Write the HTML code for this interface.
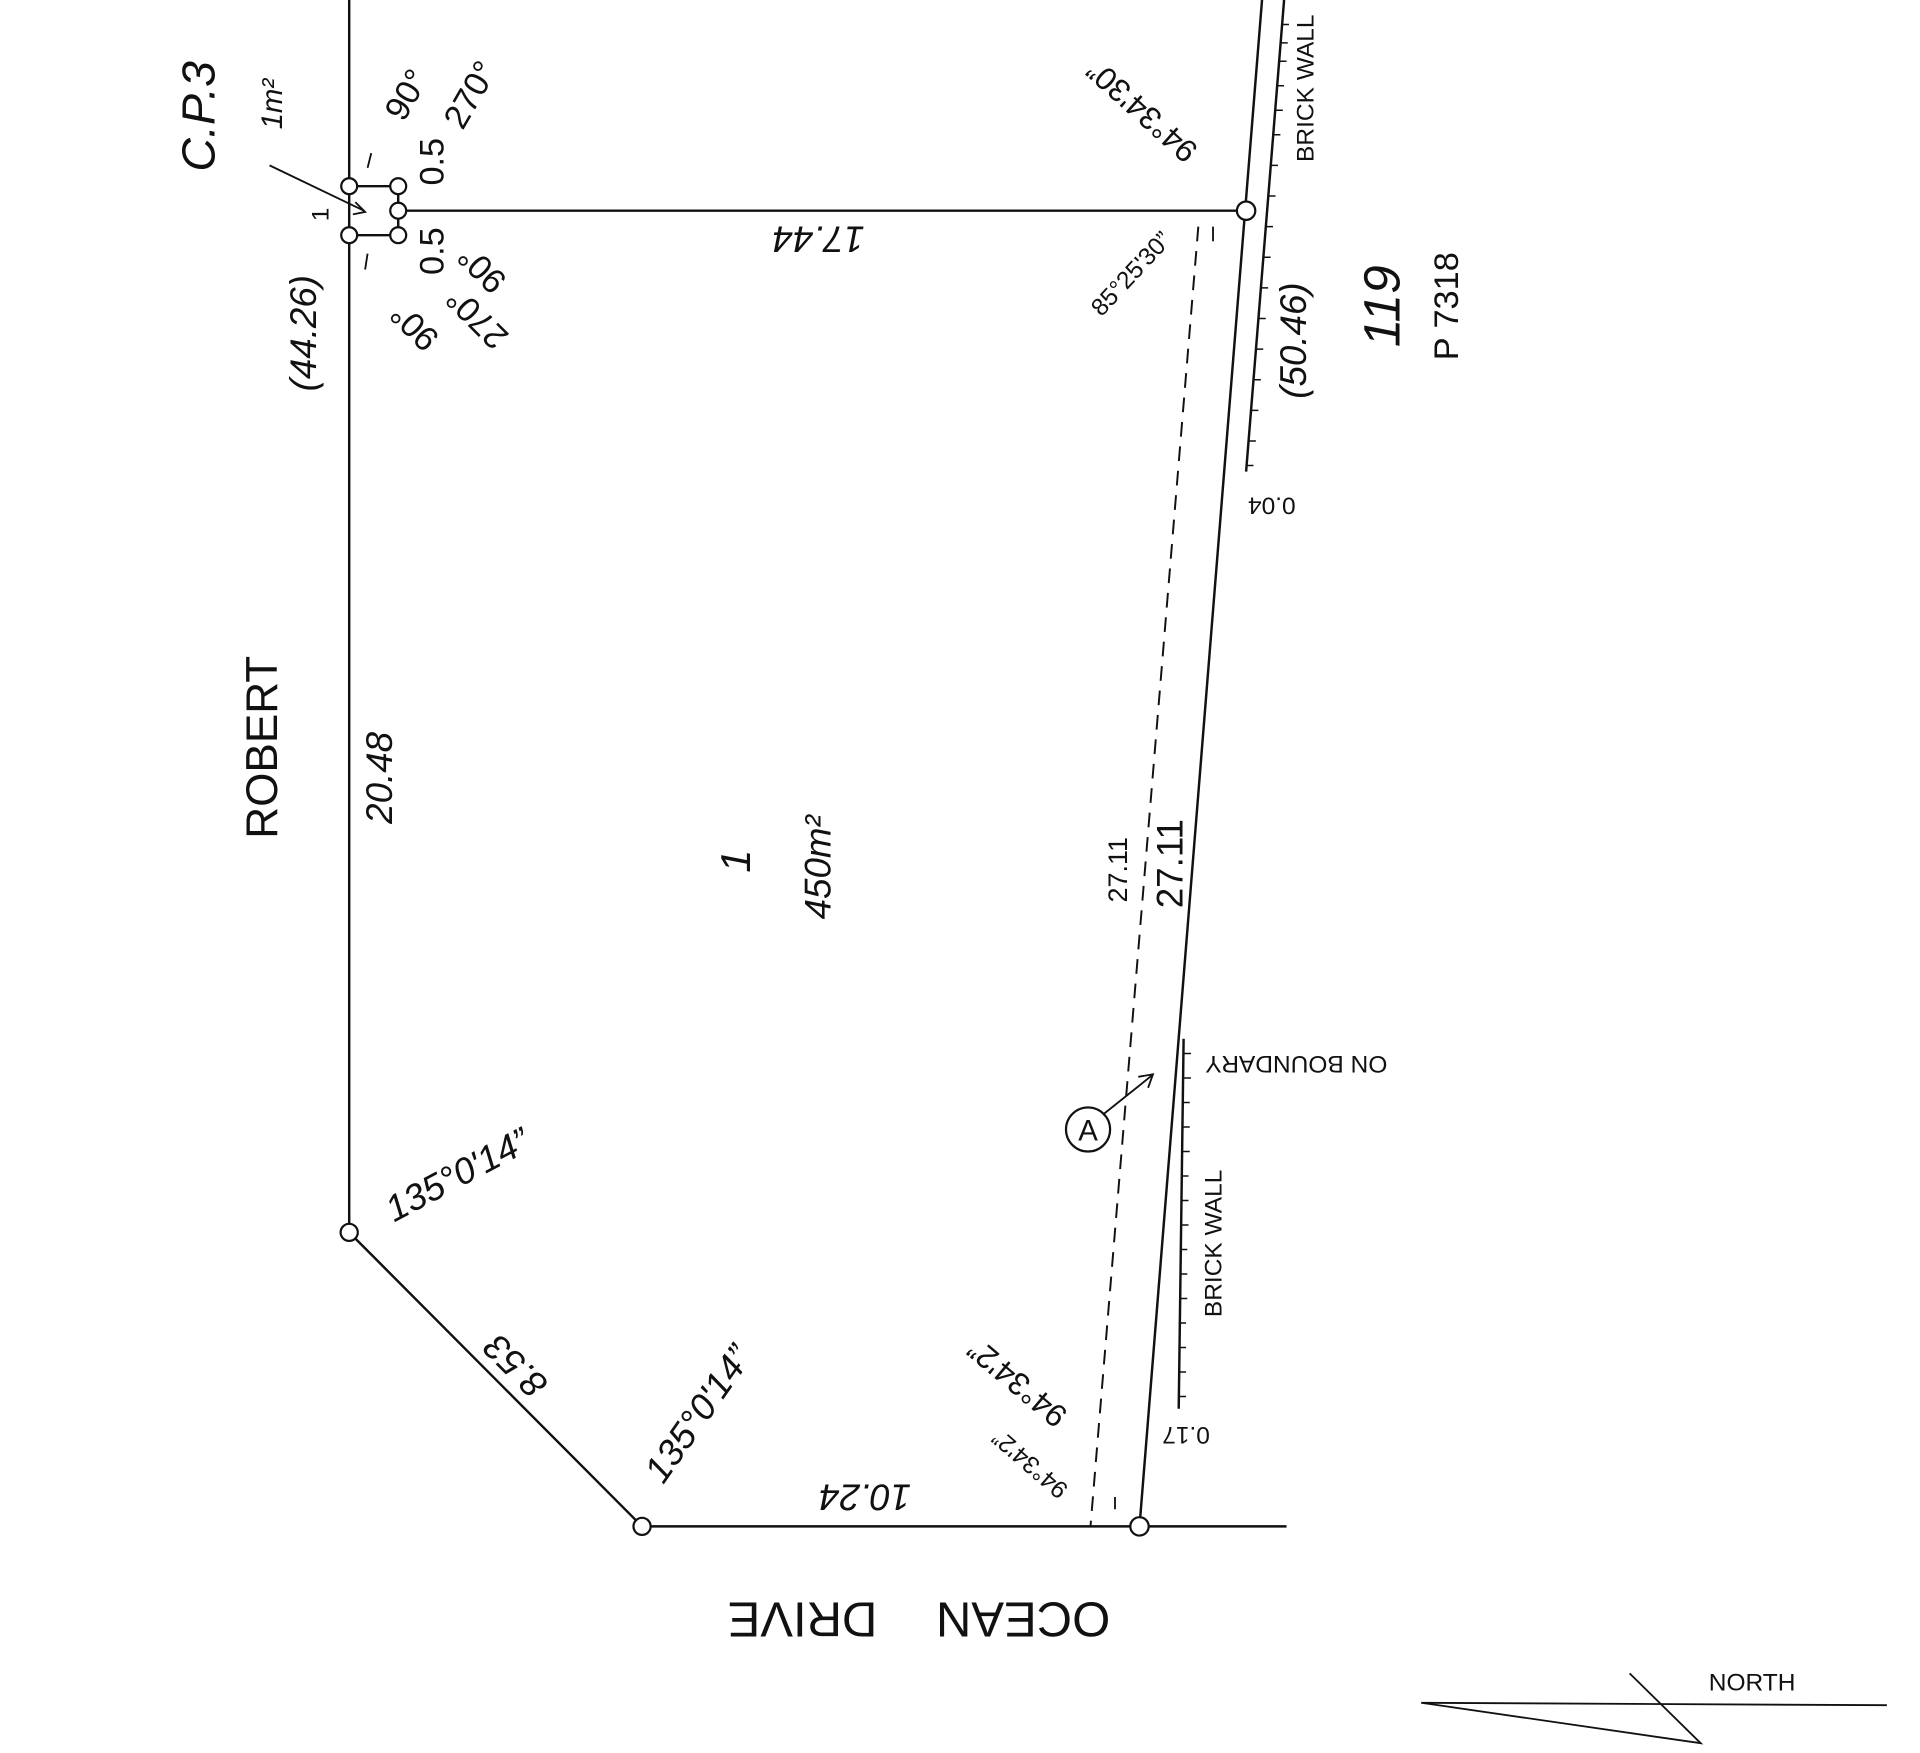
<!DOCTYPE html>
<html><head><meta charset="utf-8"><style>
html,body{margin:0;padding:0;background:#fff;}
svg{display:block;}
text{font-family:"Liberation Sans",sans-serif;fill:#111;}
</style></head><body>
<svg width="1920" height="1753" viewBox="0 0 1567 1431" preserveAspectRatio="none" xmlns="http://www.w3.org/2000/svg">
<g stroke="#111" stroke-width="2" fill="none">
<line x1="285" y1="0" x2="285" y2="1006"/>
<line x1="325" y1="172" x2="1017" y2="172"/>
<line x1="285" y1="152" x2="325" y2="152"/>
<line x1="285" y1="192" x2="325" y2="192"/>
<line x1="325" y1="152" x2="325" y2="192"/>
<line x1="1030" y1="0" x2="930" y2="1246"/>
<line x1="1048" y1="0" x2="1017" y2="385"/>
<line x1="966" y1="848" x2="962" y2="1150"/>
<line x1="978" y1="185" x2="890" y2="1246" stroke-dasharray="12,8" stroke-width="1.6"/>
<line x1="285" y1="1006" x2="524" y2="1246"/>
<line x1="524" y1="1246" x2="1050" y2="1246"/>
<line x1="220" y1="135" x2="297" y2="172" stroke-width="1.5"/>
<polyline points="290,165 298,173 288,175" stroke-width="1.5"/>
<line x1="900" y1="910" x2="940" y2="878" stroke-width="1.5"/>
<polyline points="929,879 941,877 937,888" stroke-width="1.5"/>
<circle cx="888" cy="922" r="18" stroke-width="1.8"/>
<line x1="1160" y1="1390" x2="1540" y2="1392" stroke-width="1.5"/>
<polyline points="1160,1390 1388,1423 1330,1366" stroke-width="1.5"/>
<line x1="990" y1="185" x2="990" y2="197" stroke-width="1.5"/>
<line x1="910" y1="1222" x2="910" y2="1232" stroke-width="1.5"/>
<line x1="303" y1="125" x2="300" y2="137" stroke-width="1.5"/>
<line x1="300" y1="207" x2="298" y2="220" stroke-width="1.5"/>
</g>
<g stroke="#111" stroke-width="1.2">
<path d="M1046,20h6M1045,35h6M1044,50h6M1042,70h6M1041,90h6M1039,110h6M1037,135h6M1035,160h6M1033,185h6M1031,210h6M1029,235h6M1027,260h6M1025,285h6M1023,310h6M1021,335h6M1019,360h6M1017,380h6"/>
<path d="M966,860h6M966,880h6M965,900h6M965,920h6M965,940h6M964,960h6M964,980h6M964,1000h6M963,1020h6M963,1040h6M963,1060h6M962,1080h6M962,1100h6M962,1120h6M962,1140h6"/>
</g>
<g fill="#fff" stroke="#111" stroke-width="1.8">
<circle cx="285" cy="152" r="6.5"/><circle cx="325" cy="152" r="6.5"/><circle cx="325" cy="172" r="6.5"/>
<circle cx="285" cy="192" r="6.5"/><circle cx="325" cy="192" r="6.5"/>
<circle cx="1017" cy="172" r="7.5"/><circle cx="285" cy="1006" r="7"/><circle cx="524" cy="1246" r="7"/><circle cx="930" cy="1246" r="7.5"/>
</g>
<g font-size="30">
<text transform="translate(226,610) rotate(-90)" text-anchor="middle" font-size="36">ROBERT</text>
<text transform="translate(320,635) rotate(-90)" text-anchor="middle" font-style="italic">20.48</text>
<text transform="translate(258,272) rotate(-90)" text-anchor="middle" font-style="italic">(44.26)</text>
<text transform="translate(175,95) rotate(-90)" text-anchor="middle" font-style="italic" font-size="38">C.P.3</text>
<text transform="translate(230,85) rotate(-90)" text-anchor="middle" font-style="italic" font-size="24">1m²</text>
<text transform="translate(268,175) rotate(-90)" text-anchor="middle" font-size="20">1</text>
<text transform="translate(668,185) rotate(180)" text-anchor="middle" font-style="italic">17.44</text>
<text transform="translate(1142,250) rotate(-90)" text-anchor="middle" font-size="42" font-style="italic">119</text>
<text transform="translate(1190,250) rotate(-90)" text-anchor="middle" font-size="28">P 7318</text>
<text transform="translate(1066,278) rotate(-90)" text-anchor="middle" font-style="italic">(50.46)</text>
<text transform="translate(1072,72) rotate(-90)" text-anchor="middle" font-size="20">BRICK WALL</text>
<text transform="translate(1038,406) rotate(180)" text-anchor="middle" font-size="20">0.04</text>
<text transform="translate(612,703) rotate(-90)" text-anchor="middle" font-size="34" font-style="italic">1</text>
<text transform="translate(678,708) rotate(-90)" text-anchor="middle" font-style="italic">450m²</text>
<text transform="translate(920,710) rotate(-90)" text-anchor="middle" font-size="22">27.11</text>
<text transform="translate(965,705) rotate(-90)" text-anchor="middle">27.11</text>
<text transform="translate(1058,862) rotate(180)" text-anchor="middle" font-size="20">ON  BOUNDARY</text>
<text transform="translate(997,1015) rotate(-90)" text-anchor="middle" font-size="20">BRICK WALL</text>
<text transform="translate(968,1165) rotate(180)" text-anchor="middle" font-size="20">0.17</text>
<text transform="translate(378,968) rotate(-28)" text-anchor="middle" font-style="italic">135°0'14”</text>
<text transform="translate(578,1160) rotate(-55)" text-anchor="middle" font-style="italic">135°0'14”</text>
<text transform="translate(428,1108) rotate(225)" text-anchor="middle" font-style="italic">8.53</text>
<text transform="translate(706,1212) rotate(180)" text-anchor="middle" font-style="italic">10.24</text>
<text transform="translate(835,1308) rotate(180)" text-anchor="middle" font-size="40">OCEAN</text>
<text transform="translate(655,1308) rotate(180)" text-anchor="middle" font-size="40">DRIVE</text>
<text transform="translate(938,84) rotate(222)" text-anchor="middle" font-size="26">94°34'30”</text>
<text transform="translate(928,228) rotate(-47)" text-anchor="middle" font-size="20">85°25'30”</text>
<text transform="translate(836,1122) rotate(220)" text-anchor="middle" font-size="26">94°34'2”</text>
<text transform="translate(845,1190) rotate(221)" text-anchor="middle" font-size="20">94°34'2”</text>
<text x="888" y="931" text-anchor="middle" font-size="24">A</text>
<text transform="translate(340,82) rotate(-60)" text-anchor="middle" font-size="28">90°</text>
<text transform="translate(392,82) rotate(-60)" text-anchor="middle" font-size="28">270°</text>
<text transform="translate(362,132) rotate(-90)" text-anchor="middle" font-size="28">0.5</text>
<text transform="translate(362,205) rotate(-90)" text-anchor="middle" font-size="28">0.5</text>
<text transform="translate(400,213) rotate(225)" text-anchor="middle" font-size="28">90°</text>
<text transform="translate(396,253) rotate(225)" text-anchor="middle" font-size="28">270°</text>
<text transform="translate(345,260) rotate(225)" text-anchor="middle" font-size="28">90°</text>
<text x="1430" y="1380" text-anchor="middle" font-size="20">NORTH</text>
</g>
</svg>
</body></html>
